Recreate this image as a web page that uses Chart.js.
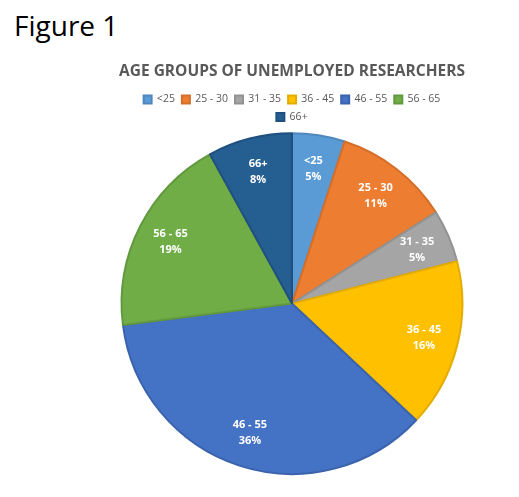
<!DOCTYPE html>
<html><head><meta charset="utf-8">
<script src="https://cdn.jsdelivr.net/npm/chart.js@4/dist/chart.umd.min.js"></script>
<style>body{margin:0;background:#fff;width:519px;height:497px;position:relative;overflow:hidden}
#fig{position:absolute;left:14px;top:6px;font:28px "Open Sans",sans-serif;color:#000}
#wrap{position:absolute;left:0;top:58px;width:519px;height:439px}</style>
</head><body>
<div id="fig">Figure 1</div>
<div id="wrap"><canvas id="c"></canvas></div>
<script>
const categories=["<25","25 - 30","31 - 35","36 - 45","46 - 55","56 - 65","66+"];
const values=[5,11,5,16,36,19,8];
const colors=["#5B9BD5","#ED7D31","#A5A5A5","#FFC000","#4472C4","#70AD47","#255E91"];
const borders=["#4E88BC","#D56E29","#929292","#E5AC00","#3B63AD","#62993E","#1F5080"];
const labelPlugin={id:"lbl",afterDatasetsDraw(ch){const ctx=ch.ctx;const meta=ch.getDatasetMeta(0);
ctx.save();ctx.fillStyle="#fff";ctx.font="bold 11px 'Open Sans',sans-serif";ctx.textAlign="center";ctx.textBaseline="middle";
meta.data.forEach((a,i)=>{const m=(a.startAngle+a.endAngle)/2;const r=a.outerRadius*0.8;
const x=a.x+Math.cos(m)*r,y=a.y+Math.sin(m)*r;ctx.fillText(categories[i],x,y-8);ctx.fillText(values[i]+"%",x,y+8);});ctx.restore();}};
new Chart(document.getElementById("c"),{type:"pie",data:{labels:categories,datasets:[{data:values,backgroundColor:colors,borderColor:borders,borderWidth:2}]},
options:{responsive:true,maintainAspectRatio:false,animation:false,layout:{padding:{left:119,right:54,bottom:22}},
plugins:{tooltip:{enabled:false},title:{display:true,text:"AGE GROUPS OF UNEMPLOYED RESEARCHERS",color:"#595959",font:{family:"Open Sans",size:16,weight:"bold"},padding:{top:4,bottom:6}},
legend:{position:"top",labels:{boxWidth:8,boxHeight:8,padding:7,color:"#595959",font:{family:"Open Sans",size:10.5}}}}},plugins:[labelPlugin]});
</script></body></html>
